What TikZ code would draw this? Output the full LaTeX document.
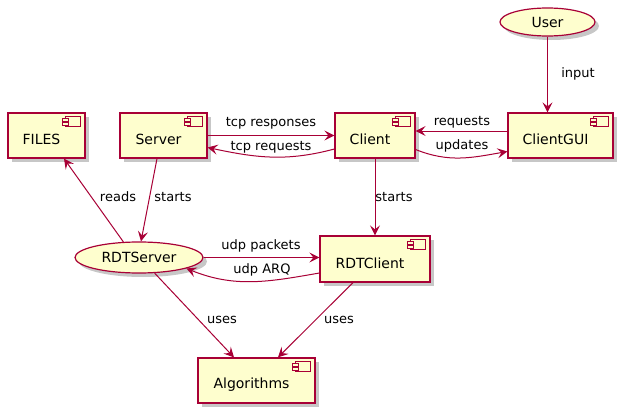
\documentclass[tikz,border=0pt]{standalone}
\usepackage{fontspec}
\setmainfont{DejaVu Sans}
\usetikzlibrary{arrows.meta,shapes.geometric,shadows}
\definecolor{pfill}{HTML}{FEFECE}
\definecolor{pline}{HTML}{A80036}
\newcommand\compicon[1]{%
  \draw[pline, fill=pfill, line width=0.8pt] ([xshift=-20pt,yshift=-4pt]#1.north east) rectangle ([xshift=-5pt,yshift=-14pt]#1.north east);
  \draw[pline, fill=pfill, line width=0.8pt] ([xshift=-23pt,yshift=-6pt]#1.north east) rectangle ([xshift=-17pt,yshift=-8.5pt]#1.north east);
  \draw[pline, fill=pfill, line width=0.8pt] ([xshift=-23pt,yshift=-10pt]#1.north east) rectangle ([xshift=-17pt,yshift=-12.5pt]#1.north east);
}
\begin{document}
\begin{tikzpicture}[x=1pt,y=-1pt,
  shad/.style={drop shadow={shadow xshift=4pt, shadow yshift=-4pt, opacity=0.22, fill=black}},
  comp/.style={draw=pline, fill=pfill, line width=1.2pt, minimum height=45pt, inner sep=0pt, shad},
  ctxt/.style={font=\fontsize{14}{16}\selectfont, inner sep=0pt},
  actor/.style={ellipse, draw=pline, fill=pfill, line width=1.2pt, inner sep=0pt, shad, font=\fontsize{14}{16}\selectfont},
  lbl/.style={font=\fontsize{13}{15}\selectfont, inner sep=1pt},
  edge/.style={draw=pline, line width=1pt, -{Stealth[length=10pt,width=10pt,inset=4pt]}}
]
\fill[white] (0,0) rectangle (625,415);
\useasboundingbox (0,0) rectangle (625,415);

\node[actor, minimum width=95pt, minimum height=28pt] (user) at (547.5,22) {User};
\node[comp, minimum width=77pt, label={[ctxt,xshift=-5pt,yshift=-4pt]center:FILES}] (files) at (46.5,135.5) {};
\node[comp, minimum width=87pt, label={[ctxt,xshift=-5pt,yshift=-4pt]center:Server}] (server) at (163.5,135.5) {};
\node[comp, minimum width=80pt, label={[ctxt,xshift=-5pt,yshift=-4pt]center:Client}] (client) at (375,135.5) {};
\node[comp, minimum width=105pt, label={[ctxt,xshift=-5pt,yshift=-4pt]center:ClientGUI}] (gui) at (560.5,135.5) {};
\node[actor, minimum width=128pt, minimum height=31pt] (rdtserver) at (139,257.5) {RDTServer};
\node[comp, minimum width=110pt, minimum height=46pt, label={[ctxt,xshift=-5pt,yshift=-4pt]center:RDTClient}] (rdtclient) at (375,259) {};
\node[comp, minimum width=117pt, label={[ctxt,xshift=-5pt,yshift=-4pt]center:Algorithms}] (algo) at (256.5,380.5) {};

\foreach \n in {files,server,client,gui,rdtclient,algo} {\compicon{\n}}

\draw[edge] (user.south) -- (user.south |- gui.north);
\draw[edge] ([yshift=4.5pt]gui.west) -- ([yshift=4.5pt]client.east);
\draw[edge] ([yshift=-14pt]client.east) to[out=-22,in=190] ([yshift=-16pt]gui.west);
\draw[edge] (server.east) -- (client.west);
\draw[edge] ([yshift=-13.5pt]client.west) to[out=195,in=-12] ([yshift=-12pt]server.east);
\draw[edge] (client.south) -- (rdtclient.north);
\draw[edge] ([xshift=-6.5pt]server.south) -- ([xshift=2pt]rdtserver.north);
\draw[edge] (rdtserver.135) -- ([xshift=17.5pt]files.south);
\draw[edge] (rdtserver.east) -- (rdtserver.east -| rdtclient.west);
\draw[edge] ([yshift=-14pt]rdtclient.west) to[out=190,in=-22] (rdtserver.-13);
\draw[edge] (rdtserver.-45) -- ([xshift=-22.5pt]algo.north);
\draw[edge] ([xshift=-22pt]rdtclient.south) -- ([xshift=21.5pt]algo.north);

\node[lbl] (l1) at (578,74) {input};
\node[lbl] (l2) at (462,122) {requests};
\node[lbl] (l3) at (462,146) {updates};
\node[lbl] (l4) at (271,123) {tcp responses};
\node[lbl] (l5) at (271,147) {tcp requests};
\node[lbl] (l6) at (394,197) {starts};
\node[lbl] (l7) at (173,197) {starts};
\node[lbl] (l8) at (118,197) {reads};
\node[lbl] (l9) at (261,246) {udp packets};
\node[lbl] (l10) at (262,270) {udp ARQ};
\node[lbl] (l11) at (222,320) {uses};
\node[lbl] (l12) at (339,320) {uses};
\end{tikzpicture}
\end{document}
